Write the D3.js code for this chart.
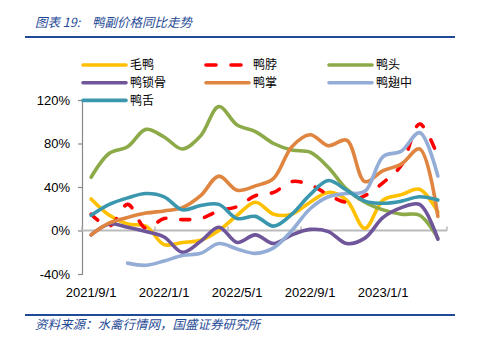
<!DOCTYPE html>
<html><head><meta charset="utf-8">
<script src="https://cdn.jsdelivr.net/npm/d3@7"></script>
<style>
html,body{margin:0;padding:0;background:#fff;}
svg{display:block;}
</style></head>
<body>
<svg id="chart" width="477" height="338"></svg>
<script>
const categories = ["2021/9/1","2021/10/1","2021/11/1","2021/12/1","2022/1/1","2022/2/1","2022/3/1","2022/4/1","2022/5/1","2022/6/1","2022/7/1","2022/8/1","2022/9/1","2022/10/1","2022/11/1","2022/12/1","2023/1/1","2023/2/1","2023/3/1","2023/4/1"];
const tickLabels = ["2021/9/1","2022/1/1","2022/5/1","2022/9/1","2023/1/1"];
const yTicks = [-40, 0, 40, 80, 120];

const maoya      = [29, 14, 6, 4, -13, -11, -9, 0, 14, 26, 15, 15, 26, 35, 28, 2, 28, 33, 38, 17];
const yabo       = [15, 4, 24, 2, 11, 10, 11, 18, 22, 32, 35, 45, 42, 33, 26, 32, 44, 60, 98, 68];
const yatou      = [49, 71, 77, 93, 86, 75, 87, 114, 97, 91, 80, 74, 72, 58, 38, 26, 19, 15, 14, -7];
const yasuogu    = [-4, 6, 3, -1, -6, -20, -10, 3, -11, -4, -12, -4, 1, -1, -12, -7, 12, 21, 24, -8];
const yazhang    = [-4, 7, 12, 16, 18, 21, 32, 50, 37, 41, 48, 77, 88, 78, 83, 45, 55, 61, 75, 13];
const yachizhong = [null, null, -30, -32, -28, -23, -21, -12, -17, -21, -16, 0, 20, 31, 34, 36, 68, 73, 90, 50];
const yashe      = [14, 24, 30, 34, 31, 19, 23, 24, 11, 13, 4, 15, 33, 46, 37, 27, 25, 27, 31, 28];

const seriesNames = ["毛鸭","鸭脖","鸭头","鸭锁骨","鸭掌","鸭翅中","鸭舌"];
const seriesValues = [maoya, yabo, yatou, yasuogu, yazhang, yachizhong, yashe];
const seriesColors = ["#FFC000","#FF0000","#8CAA48","#6F5599","#DF853F","#94ADD6","#3A97AE"];
const seriesDash = [null, "9,15", null, null, null, null, null];

const svg = d3.select("#chart");
const font = "Liberation Sans, Arial, sans-serif";
const cjk = "'Noto Sans CJK SC', sans-serif";
const blue = "#1F4A96";

// Title
svg.append("text").attr("x", 35).attr("y", 27)
  .attr("font-family", cjk).attr("font-size", 12.5).attr("font-style", "italic")
  .attr("fill", blue).text("图表 19:");
svg.append("text").attr("x", 92).attr("y", 27)
  .attr("font-family", cjk).attr("font-size", 12.5).attr("font-style", "italic")
  .attr("fill", blue).text("鸭副价格同比走势");
svg.append("line").attr("x1", 25).attr("x2", 455).attr("y1", 37).attr("y2", 37)
  .attr("stroke", blue).attr("stroke-width", 2);
// Footer
svg.append("line").attr("x1", 25).attr("x2", 455).attr("y1", 315).attr("y2", 315)
  .attr("stroke", blue).attr("stroke-width", 2);
svg.append("text").attr("x", 35).attr("y", 329)
  .attr("font-family", cjk).attr("font-size", 12.5).attr("font-style", "italic")
  .attr("fill", blue).text("资料来源：水禽行情网，国盛证券研究所");

// Scales
const x = d3.scalePoint().domain(categories).range([82, 447]).padding(0.5);
const step = x.step();
const y = d3.scaleLinear().domain([-40, 120]).range([274, 100]);

// Y axis
const yAxis = svg.append("g").attr("transform", "translate(82,0)")
  .call(d3.axisLeft(y).tickValues(yTicks).tickSize(4).tickPadding(8).tickFormat(d => d + "%"));
yAxis.select(".domain").attr("stroke", "#888").attr("stroke-width", 1.2);
yAxis.selectAll(".tick line").attr("stroke", "#888").attr("stroke-width", 1.2);
yAxis.selectAll(".tick text").attr("font-family", font).attr("font-size", 13).attr("fill", "#000");

// Zero line (category axis)
svg.append("line").attr("x1", 82).attr("x2", 447).attr("y1", y(0)).attr("y2", y(0))
  .attr("stroke", "#BBBBBB").attr("stroke-width", 2);
const tickCats = categories.filter((c, i) => i % 4 === 0);
svg.selectAll(".xtick").data(tickCats.concat([null])).enter().append("line")
  .attr("x1", d => d === null ? x(categories[categories.length-1]) + step/2 : x(d) - step/2)
  .attr("x2", d => d === null ? x(categories[categories.length-1]) + step/2 : x(d) - step/2)
  .attr("y1", y(0)).attr("y2", y(0) - 4)
  .attr("stroke", "#AAAAAA").attr("stroke-width", 1.2);

// X labels
svg.selectAll(".xlab").data(tickLabels).enter().append("text")
  .attr("x", d => x(d)).attr("y", 296.5).attr("text-anchor", "middle")
  .attr("font-family", font).attr("font-size", 13).attr("fill", "#000").text(d => d);

// Lines
const line = d3.line()
  .defined(d => d.v !== null)
  .x(d => x(d.c)).y(d => y(d.v))
  .curve(d3.curveCatmullRom.alpha(0.5));

seriesValues.forEach((vals, i) => {
  const data = vals.map((v, j) => ({c: categories[j], v: v}));
  const p = svg.append("path").datum(data).attr("d", line)
    .attr("fill", "none").attr("stroke", seriesColors[i])
    .attr("stroke-width", 3.6).attr("stroke-linecap", "round").attr("stroke-linejoin", "round");
  if (seriesDash[i]) p.attr("stroke-dasharray", seriesDash[i]);
});

// Legend
const legCols = [83, 206, 329];
const legRows = [65, 82.7, 100.4];
seriesNames.forEach((name, i) => {
  const lx = legCols[i % 3], ly = legRows[Math.floor(i / 3)];
  const l = svg.append("line").attr("x1", lx).attr("x2", lx + 43).attr("y1", ly).attr("y2", ly)
    .attr("stroke", seriesColors[i]).attr("stroke-width", 3.6).attr("stroke-linecap", "round");
  if (seriesDash[i]) l.attr("stroke-dasharray", "10,15");
  svg.append("text").attr("x", lx + 47).attr("y", ly + 4.3)
    .attr("font-family", cjk).attr("font-size", 12).attr("fill", "#000").text(name);
});
</script>
</body></html>
